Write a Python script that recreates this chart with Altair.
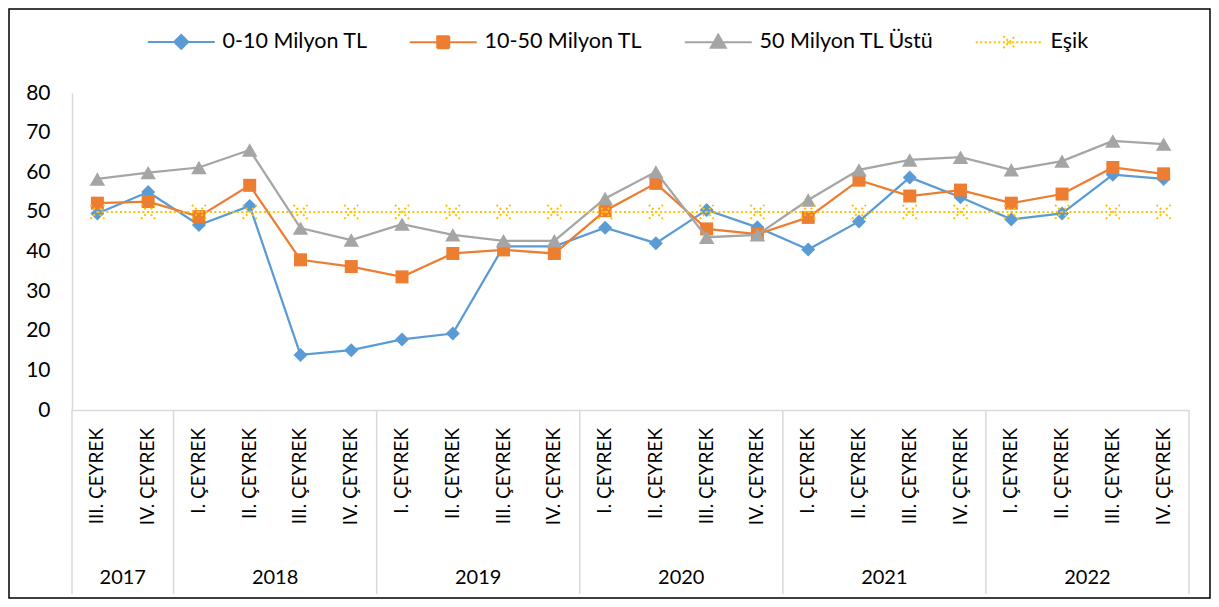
import altair as alt
import pandas as pd

# ---------------- data ----------------
quarters = ["III. ÇEYREK", "IV. ÇEYREK"] + ["I. ÇEYREK", "II. ÇEYREK", "III. ÇEYREK", "IV. ÇEYREK"] * 5
years = ["2017", "2018", "2019", "2020", "2021", "2022"]
year_counts = [2, 4, 4, 4, 4, 4]
series_names = ["0-10 Milyon TL", "10-50 Milyon TL", "50 Milyon TL Üstü", "Eşik"]

v_0_10 = [49.6, 55.0, 46.7, 51.5, 13.9, 15.1, 17.8, 19.3, 41.3, 41.3, 46.0, 42.1,
          50.5, 46.1, 40.5, 47.6, 58.7, 53.7, 48.1, 49.6, 59.4, 58.3]
v_10_50 = [52.2, 52.6, 48.8, 56.7, 37.9, 36.2, 33.6, 39.5, 40.4, 39.5, 50.3, 57.2,
           45.7, 44.4, 48.6, 58.0, 54.0, 55.5, 52.2, 54.5, 61.2, 59.6]
v_50_ustu = [58.3, 59.9, 61.2, 65.6, 45.9, 42.9, 46.9, 44.2, 42.7, 42.7, 53.4, 60.1,
             43.6, 44.2, 53.0, 60.6, 63.1, 63.8, 60.6, 62.8, 67.9, 67.1]
esik = [50] * 22

colors = ["#5B9BD5", "#ED7D31", "#A5A5A5", "#FFC000"]
FONT = "Lato"
TXT = "#000000"

# ---------------- tables ----------------
rows = []
for name, vals in zip(series_names, [v_0_10, v_10_50, v_50_ustu, esik]):
    for i, v in enumerate(vals):
        rows.append({"idx": i, "series": name, "value": v})
df = pd.DataFrame(rows)

qdf = pd.DataFrame({"idx": list(range(len(quarters))), "label": quarters})

mids, bounds, start = [], [-0.5], 0
for c in year_counts:
    mids.append(start + (c - 1) / 2)
    start += c
    bounds.append(start - 0.5)
ydf = pd.DataFrame({"mid": mids, "year": years})
bdf = pd.DataFrame({"b": bounds})

W, H = 1117, 317

x_scale = alt.Scale(domain=[-0.5, 21.5], nice=False, zero=False)
y_scale = alt.Scale(domain=[0, 80], nice=False)

# legend symbols: line + marker paths (unit = sqrt(symbolSize)/2 = 4px)
leg_paths = [
    "M-1,0L15.75,0M5.625,0L7.375,-1.75L9.125,0L7.375,1.75Z",
    "M-1,0L15.75,0M5.875,-1.5L8.875,-1.5L8.875,1.5L5.875,1.5Z",
    "M-1,0L15.75,0M7.375,-1.9L9.25,1.4L5.5,1.4Z",
    "M-1,0L15.75,0M5.875,-1.5L8.875,1.5M5.875,1.5L8.875,-1.5",
]
shape_expr = ""
for n, p in zip(series_names[:-1], leg_paths[:-1]):
    shape_expr += f"datum.value === '{n}' ? '{p}' : "
shape_expr += f"'{leg_paths[-1]}'"
dash_expr = "datum.value === 'Eşik' ? [2, 2.5] : [1, 0]"
col_expr = "scale('color', datum.value)"

legend = alt.Legend(
    title=None, orient="none", legendX=69, legendY=-62, direction="horizontal",
    columns=4, columnPadding=35, labelFont=FONT, labelFontSize=21.5, labelColor=TXT,
    labelLimit=400, symbolSize=64, symbolStrokeWidth=2, labelOffset=60,
    symbolType={"expr": shape_expr},
    symbolFillColor={"expr": col_expr},
    symbolStrokeColor={"expr": col_expr},
    symbolDash={"expr": dash_expr},
    symbolOpacity=1,
)

color = alt.Color("series:N", scale=alt.Scale(domain=series_names, range=colors), legend=legend)

x_enc = alt.X("idx:Q", scale=x_scale,
              axis=alt.Axis(labels=False, ticks=False, grid=False, title=None,
                            domainColor="#D9D9D9", domainWidth=1.5))
y_enc = alt.Y("value:Q", scale=y_scale,
              axis=alt.Axis(values=list(range(0, 81, 10)), ticks=False, grid=False, title=None,
                            domainColor="#D9D9D9", domainWidth=1.5, labelFont=FONT,
                            labelFontSize=21, labelColor=TXT, labelPadding=22,
                            labelAlign="right", labelBaseline="middle", labelFlush=False))

base = alt.Chart(df).encode(x=x_enc, y=y_enc, color=color)

layers = []
marker_specs = [
    dict(shape="diamond", size=196, filled=True),
    dict(shape="square", size=169, filled=True),
    dict(shape="triangle-up", size=240, filled=True),
]
for name, ms in zip(series_names[:3], marker_specs):
    sub = base.transform_filter(alt.datum.series == name)
    layers.append(sub.mark_line(strokeWidth=2.25))
    layers.append(sub.mark_point(opacity=1, **ms))

esub = base.transform_filter(alt.datum.series == "Eşik")
layers.append(esub.mark_line(strokeWidth=2, strokeDash=[2, 2.5]))
layers.append(esub.mark_point(shape="M-1,-1L1,1M-1,1L1,-1", size=196, filled=False,
                              opacity=1, strokeWidth=2, strokeDash=[2, 2.5]))

q_text = alt.Chart(qdf).mark_text(angle=270, align="right", baseline="middle",
                                  font=FONT, fontSize=19, color=TXT).encode(
    x=alt.X("idx:Q", scale=x_scale), y=alt.value(H + 18), text="label:N")

y_text = alt.Chart(ydf).mark_text(baseline="middle", font=FONT, fontSize=20, color=TXT).encode(
    x=alt.X("mid:Q", scale=x_scale), y=alt.value(H + 168), text="year:N")

seps = alt.Chart(bdf).mark_rule(color="#D9D9D9", strokeWidth=1.5).encode(
    x=alt.X("b:Q", scale=x_scale), y=alt.value(H), y2=alt.value(H + 184))

frame = alt.Chart(pd.DataFrame({"k": [0]})).mark_rect(
    fillOpacity=0, stroke="#000000", strokeWidth=1.5).encode(
    x=alt.value(-63), x2=alt.value(W + 21), y=alt.value(-84), y2=alt.value(H + 188))

chart = alt.layer(seps, q_text, y_text, *layers, frame).properties(
    width=W, height=H,
    padding={"left": 64, "top": 85, "right": 22, "bottom": 189},
    autosize=alt.AutoSizeParams(type="none"),
    background="white",
).configure_view(strokeWidth=0)

chart.save("out.html", embed_options={"renderer": "svg", "actions": False})
